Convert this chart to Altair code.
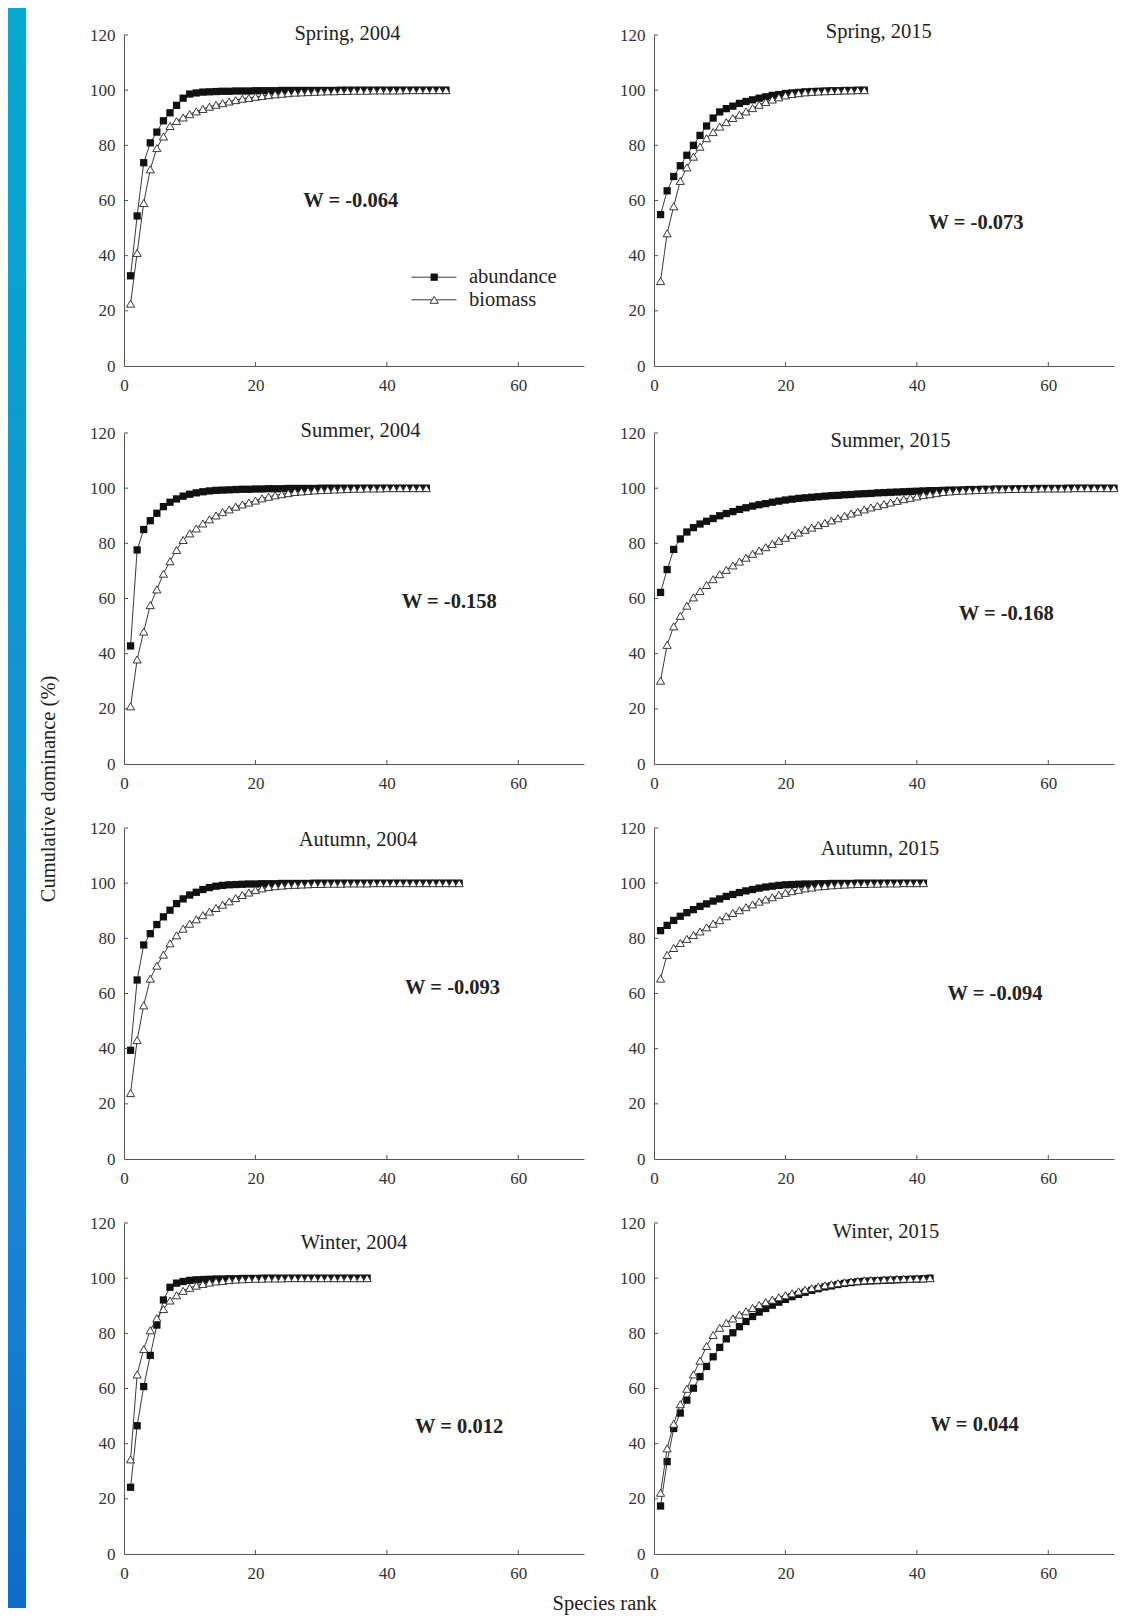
import altair as alt
import pandas as pd

SERIF = "Liberation Serif"

TITLES = ["Spring, 2004", "Spring, 2015", "Summer, 2004", "Summer, 2015",
          "Autumn, 2004", "Autumn, 2015", "Winter, 2004", "Winter, 2015"]
W_TEXT = ["W = -0.064", "W = -0.073", "W = -0.158", "W = -0.168",
          "W = -0.093", "W = -0.094", "W = 0.012", "W = 0.044"]
SERIES = ["abundance", "biomass"]
X_TICKS = [0, 20, 40, 60]
Y_TICKS = [0, 20, 40, 60, 80, 100, 120]

# cumulative dominance (%) by species rank (1..N)
ab_spring_2004 = [32.7, 54.4, 73.7, 80.9, 84.8, 88.9, 91.8, 94.5, 97.1, 98.6,
                  99.0, 99.3, 99.4, 99.5, 99.6, 99.6, 99.7, 99.7, 99.7, 99.8,
                  99.8, 99.8, 99.8, 99.9, 99.9, 99.9, 99.9, 99.9, 99.9, 99.9,
                  99.9, 99.9, 100, 100, 100, 100, 100, 100, 100, 100,
                  100, 100, 100, 100, 100, 100, 100, 100, 100]
bm_spring_2004 = [22.6, 41.0, 59.1, 71.3, 79.0, 83.2, 87.0, 88.8, 90.1, 91.3,
                  92.3, 93.2, 94.0, 94.7, 95.3, 95.9, 96.4, 96.9, 97.2, 97.6,
                  97.9, 98.2, 98.5, 98.7, 98.9, 99.1, 99.2, 99.3, 99.4, 99.5,
                  99.6, 99.6, 99.7, 99.7, 99.8, 99.8, 99.8, 99.9, 99.9, 99.9,
                  99.9, 99.9, 100, 100, 100, 100, 100, 100, 100]

ab_spring_2015 = [54.9, 63.5, 68.7, 72.6, 76.4, 80.0, 83.6, 87.0, 89.9, 92.1,
                  93.3, 94.2, 95.2, 95.9, 96.5, 97.1, 97.6, 98.1, 98.4, 98.8,
                  99.0, 99.2, 99.4, 99.5, 99.6, 99.7, 99.8, 99.8, 99.9, 99.9,
                  100, 100]
bm_spring_2015 = [30.8, 48.1, 57.9, 67.1, 72.0, 75.9, 79.5, 82.6, 84.8, 86.8,
                  88.4, 89.9, 91.1, 92.3, 93.5, 94.7, 95.7, 96.6, 97.4, 98.1,
                  98.6, 98.9, 99.2, 99.4, 99.5, 99.6, 99.7, 99.8, 99.9, 99.9,
                  100, 100]

ab_summer_2004 = [42.8, 77.6, 85.0, 88.2, 90.9, 93.3, 94.9, 96.1, 97.1, 97.8,
                  98.3, 98.7, 99.0, 99.2, 99.3, 99.4, 99.5, 99.6, 99.6, 99.7,
                  99.7, 99.8, 99.8, 99.8, 99.9, 99.9, 99.9, 99.9, 99.9, 100,
                  100, 100, 100, 100, 100, 100, 100, 100, 100, 100,
                  100, 100, 100, 100, 100, 100]
bm_summer_2004 = [20.9, 37.9, 48.0, 57.6, 63.3, 69.0, 73.5, 77.6, 81.2, 83.6,
                  85.4, 87.2, 88.7, 90.1, 91.3, 92.3, 93.3, 94.1, 94.8, 95.5,
                  96.3, 96.9, 97.4, 97.8, 98.2, 98.6, 98.8, 99.0, 99.2, 99.3,
                  99.4, 99.5, 99.6, 99.7, 99.8, 99.8, 99.9, 99.9, 99.9, 100,
                  100, 100, 100, 100, 100, 100]

ab_summer_2015 = [62.2, 70.5, 77.8, 81.6, 84.1, 85.7, 87.0, 88.0, 89.0, 90.0,
                  90.8, 91.5, 92.3, 92.9, 93.5, 94.0, 94.4, 94.9, 95.3, 95.7,
                  96.0, 96.3, 96.5, 96.7, 96.9, 97.1, 97.3, 97.4, 97.6, 97.7,
                  97.9, 98.0, 98.1, 98.3, 98.4, 98.5, 98.6, 98.7, 98.8, 98.9,
                  99.0, 99.1, 99.1, 99.2, 99.3, 99.3, 99.4, 99.5, 99.5, 99.6,
                  99.6, 99.7, 99.7, 99.7, 99.8, 99.8, 99.8, 99.9, 99.9, 99.9,
                  99.9, 99.9, 100, 100, 100, 100, 100, 100, 100, 100]
bm_summer_2015 = [30.2, 43.2, 49.9, 53.7, 57.4, 60.4, 62.7, 64.9, 67.0, 68.8,
                  70.4, 72.0, 73.4, 74.8, 76.2, 77.4, 78.6, 79.8, 80.9, 82.0,
                  83.0, 83.9, 84.9, 85.7, 86.6, 87.4, 88.3, 89.1, 90.0, 90.8,
                  91.5, 92.3, 93.0, 93.6, 94.2, 94.8, 95.4, 96.0, 96.5, 97.0,
                  97.5, 97.8, 98.2, 98.6, 98.8, 99.0, 99.1, 99.2, 99.3, 99.4,
                  99.5, 99.6, 99.6, 99.7, 99.7, 99.8, 99.8, 99.8, 99.9, 99.9,
                  99.9, 99.9, 99.9, 100, 100, 100, 100, 100, 100, 100]

ab_autumn_2004 = [39.4, 64.9, 77.6, 81.7, 85.0, 87.8, 90.2, 92.6, 94.3, 95.7,
                  96.7, 97.7, 98.4, 98.9, 99.2, 99.4, 99.5, 99.6, 99.7, 99.7,
                  99.8, 99.8, 99.8, 99.9, 99.9, 99.9, 99.9, 99.9, 100, 100,
                  100, 100, 100, 100, 100, 100, 100, 100, 100, 100,
                  100, 100, 100, 100, 100, 100, 100, 100, 100, 100, 100]
bm_autumn_2004 = [23.9, 43.1, 55.7, 65.4, 70.1, 74.1, 78.2, 81.1, 83.5, 85.3,
                  86.9, 88.4, 89.7, 91.0, 92.2, 93.4, 94.6, 95.7, 96.6, 97.5,
                  98.1, 98.6, 98.9, 99.1, 99.3, 99.4, 99.5, 99.6, 99.7, 99.7,
                  99.8, 99.8, 99.8, 99.9, 99.9, 99.9, 99.9, 100, 100, 100,
                  100, 100, 100, 100, 100, 100, 100, 100, 100, 100, 100]

ab_autumn_2015 = [82.8, 84.7, 86.5, 88.0, 89.3, 90.4, 91.6, 92.5, 93.5, 94.3,
                  95.2, 95.9, 96.6, 97.2, 97.7, 98.2, 98.6, 98.9, 99.2, 99.4,
                  99.5, 99.6, 99.7, 99.7, 99.8, 99.8, 99.9, 99.9, 99.9, 99.9,
                  100, 100, 100, 100, 100, 100, 100, 100, 100, 100, 100]
bm_autumn_2015 = [65.4, 74.0, 76.5, 78.3, 79.8, 81.2, 82.5, 84.0, 85.3, 86.6,
                  88.0, 89.2, 90.2, 91.3, 92.3, 93.3, 94.1, 94.9, 95.8, 96.5,
                  97.1, 97.6, 98.1, 98.4, 98.8, 99.0, 99.2, 99.4, 99.5, 99.6,
                  99.7, 99.7, 99.8, 99.8, 99.9, 99.9, 99.9, 100, 100, 100, 100]

ab_winter_2004 = [24.2, 46.5, 60.7, 72.0, 83.0, 92.1, 96.7, 98.2, 98.8, 99.2,
                  99.4, 99.5, 99.6, 99.7, 99.7, 99.8, 99.8, 99.9, 99.9, 99.9,
                  100, 100, 100, 100, 100, 100, 100, 100, 100, 100,
                  100, 100, 100, 100, 100, 100, 100]
bm_winter_2004 = [34.3, 65.1, 74.3, 81.1, 85.5, 88.8, 91.9, 93.8, 95.4, 96.5,
                  97.3, 97.9, 98.4, 98.8, 99.0, 99.3, 99.5, 99.6, 99.7, 99.8,
                  99.8, 99.9, 99.9, 99.9, 100, 100, 100, 100, 100, 100,
                  100, 100, 100, 100, 100, 100, 100]

ab_winter_2015 = [17.4, 33.5, 45.5, 51.1, 55.8, 60.1, 64.3, 68.0, 71.5, 74.9,
                  78.0, 80.2, 82.4, 84.3, 86.1, 87.7, 89.0, 90.2, 91.3, 92.3,
                  93.3, 94.1, 94.9, 95.6, 96.2, 96.8, 97.2, 97.7, 98.1, 98.4,
                  98.7, 98.9, 99.0, 99.1, 99.2, 99.3, 99.4, 99.5, 99.6, 99.7,
                  99.8, 100]
bm_winter_2015 = [22.2, 38.3, 47.2, 54.3, 59.9, 65.1, 70.1, 75.4, 79.4, 82.0,
                  83.8, 85.4, 86.8, 88.0, 89.2, 90.3, 91.3, 92.2, 93.1, 93.8,
                  94.5, 95.2, 95.8, 96.4, 96.9, 97.4, 97.8, 98.2, 98.5, 98.8,
                  99.0, 99.2, 99.3, 99.4, 99.5, 99.6, 99.7, 99.8, 99.8, 99.9,
                  99.9, 100]

ABUNDANCE = [ab_spring_2004, ab_spring_2015, ab_summer_2004, ab_summer_2015,
             ab_autumn_2004, ab_autumn_2015, ab_winter_2004, ab_winter_2015]
BIOMASS = [bm_spring_2004, bm_spring_2015, bm_summer_2004, bm_summer_2015,
           bm_autumn_2004, bm_autumn_2015, bm_winter_2004, bm_winter_2015]

# annotation anchors, in data units (rank, %)
TITLE_AT = [(34, 120.5), (34.2, 121), (36, 120.7), (36, 117),
            (35.6, 115.6), (34.4, 112.5), (35, 112.6), (35.3, 116.6)]
W_AT = [(34.5, 60), (49, 52), (49.5, 58.6), (53.6, 54.4),
        (50, 62), (51.9, 60), (51, 46), (48.8, 46.7)]
LEGEND_Y = [32.2, 24.0]
LEGEND_X0, LEGEND_XM, LEGEND_X1, LEGEND_XT = 43.75, 47.2, 50.6, 52.5

PW, PH = 460, 331
LINE = "#3a3a3a"
AXIS = "#555555"
TEXT = "#222222"
FS = 20.5

X = alt.X("x:Q", scale=alt.Scale(domain=[0, 70], nice=False, zero=False),
          axis=alt.Axis(values=X_TICKS, title=None))
Y = alt.Y("y:Q", scale=alt.Scale(domain=[0, 120], nice=False, zero=False),
          axis=alt.Axis(values=Y_TICKS, title=None))


def panel(i):
    ab = ABUNDANCE[i]
    bm = BIOMASS[i]
    df_ab = pd.DataFrame({"x": list(range(1, len(ab) + 1)), "y": ab})
    df_bm = pd.DataFrame({"x": list(range(1, len(bm) + 1)), "y": bm})
    layers = []
    layers.append(alt.Chart(df_ab).mark_line(color=LINE, strokeWidth=1).encode(X, Y))
    layers.append(alt.Chart(df_ab).mark_point(shape="square", filled=True, color="#111111",
                                              size=53, opacity=1).encode(X, Y))
    layers.append(alt.Chart(df_bm).mark_line(color=LINE, strokeWidth=1).encode(X, Y))
    layers.append(alt.Chart(df_bm).mark_point(shape="triangle-up", filled=True, fill="white",
                                              stroke="#222222", strokeWidth=0.9, size=66,
                                              opacity=1).encode(X, Y))
    # inward tick marks
    layers.append(alt.Chart(pd.DataFrame({"x": X_TICKS[1:]})).mark_rule(color=AXIS, strokeWidth=1)
                  .encode(x=X, y=alt.value(PH), y2=alt.value(PH - 4)))
    layers.append(alt.Chart(pd.DataFrame({"y": Y_TICKS[1:]})).mark_rule(color=AXIS, strokeWidth=1)
                  .encode(y=Y, x=alt.value(0), x2=alt.value(4)))
    tx, ty = TITLE_AT[i]
    layers.append(alt.Chart(pd.DataFrame({"x": [tx], "y": [ty], "t": [TITLES[i]]}))
                  .mark_text(font=SERIF, fontSize=FS, color=TEXT, align="center", baseline="middle")
                  .encode(X, Y, text="t:N"))
    wx, wy = W_AT[i]
    layers.append(alt.Chart(pd.DataFrame({"x": [wx], "y": [wy], "t": [W_TEXT[i]]}))
                  .mark_text(font=SERIF, fontSize=FS, fontWeight="bold", color=TEXT,
                             align="center", baseline="middle")
                  .encode(X, Y, text="t:N"))
    if i == 0:
        seg = pd.DataFrame({"x": [LEGEND_X0, LEGEND_X1, LEGEND_X0, LEGEND_X1],
                            "y": [LEGEND_Y[0], LEGEND_Y[0], LEGEND_Y[1], LEGEND_Y[1]],
                            "s": [SERIES[0], SERIES[0], SERIES[1], SERIES[1]]})
        layers.append(alt.Chart(seg).mark_line(color=LINE, strokeWidth=1)
                      .encode(X, Y, detail="s:N"))
        layers.append(alt.Chart(pd.DataFrame({"x": [LEGEND_XM], "y": [LEGEND_Y[0]]}))
                      .mark_point(shape="square", filled=True, color="#111111", size=53, opacity=1)
                      .encode(X, Y))
        layers.append(alt.Chart(pd.DataFrame({"x": [LEGEND_XM], "y": [LEGEND_Y[1]]}))
                      .mark_point(shape="triangle-up", filled=True, fill="white", stroke="#222222",
                                  strokeWidth=0.9, size=66, opacity=1)
                      .encode(X, Y))
        layers.append(alt.Chart(pd.DataFrame({"x": [LEGEND_XT, LEGEND_XT], "y": LEGEND_Y,
                                              "t": SERIES}))
                      .mark_text(font=SERIF, fontSize=FS, color=TEXT, align="left", baseline="middle")
                      .encode(X, Y, text="t:N"))
    return alt.layer(*layers).properties(width=PW, height=PH)


rows = [alt.hconcat(panel(2 * r), panel(2 * r + 1), spacing=35) for r in range(4)]
grid_rows = alt.vconcat(*rows, spacing=28,
                        title=alt.TitleParams("Species rank", orient="bottom", anchor="middle",
                                              font=SERIF, fontSize=FS, fontWeight="normal",
                                              color=TEXT, offset=13))
spacer = (alt.Chart(pd.DataFrame({"a": [0]})).mark_rule(opacity=0)
          .encode(x=alt.value(0), y=alt.value(0), y2=alt.value(14))
          .properties(width=10, height=14))
grid = alt.vconcat(spacer, grid_rows, spacing=0)

grad = alt.Gradient(gradient="linear",
                    stops=[alt.GradientStop(color="#07a8cf", offset=0),
                           alt.GradientStop(color="#1390d2", offset=0.5),
                           alt.GradientStop(color="#1a84d3", offset=0.75),
                           alt.GradientStop(color="#0c6dc6", offset=1)],
                    x1=0, x2=0, y1=0, y2=1)
lab_df = pd.DataFrame({"t": ["Cumulative dominance (%)"]})
strip = alt.Chart(lab_df).mark_rect(fill=grad).encode(
    x=alt.value(0), x2=alt.value(18), y=alt.value(0), y2=alt.value(1600))
ylab = alt.Chart(lab_df).mark_text(angle=270, font=SERIF, fontSize=FS, color=TEXT,
                                   align="center", baseline="middle").encode(
    x=alt.value(40.5), y=alt.value(781), text="t:N")
leftcol = alt.layer(strip, ylab).properties(width=81, height=1600)

chart = (alt.hconcat(leftcol, grid, spacing=0)
         .properties(padding=0)
         .configure_view(stroke=None, fill="white")
         .configure_axis(domainColor=AXIS, domainWidth=1, ticks=False, grid=False,
                         labelFont=SERIF, labelFontSize=17, labelColor="#333333",
                         labelFlush=False)
         .configure_axisX(labelPadding=11)
         .configure_axisY(labelPadding=9))

chart.save("out.html", embed_options={"renderer": "svg", "actions": False})
